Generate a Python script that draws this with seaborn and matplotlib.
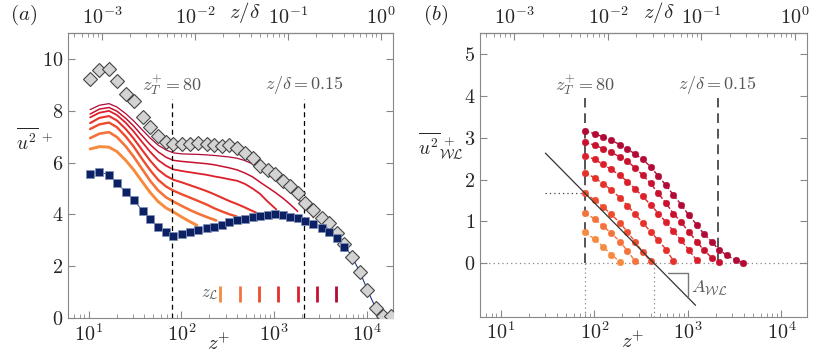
import matplotlib
matplotlib.use('Agg')
import matplotlib.pyplot as plt
import seaborn as sns

# ---- data ----
re_tau = 14000.0

zplus = [10.4, 13.1, 16.6, 20.2, 25.0, 30.5, 38.5, 46.1, 56.1, 68.4, 82.0, 101, 124, 152, 188,
         226, 272, 328, 400, 484, 586, 702, 849, 1026, 1250, 1476, 1799, 2138, 2626, 3235,
         3901, 4753, 5659, 6900, 8350, 10100, 12400, 14900, 17900]

diamonds = [9.24, 9.57, 9.62, 9.17, 8.66, 8.40, 7.78, 7.39, 7.04, 6.78, 6.72, 6.73, 6.73, 6.76,
            6.73, 6.68, 6.63, 6.68, 6.57, 6.37, 6.18, 5.89, 5.70, 5.56, 5.30, 5.09, 4.83, 4.44,
            4.18, 3.86, 3.66, 3.30, 2.85, 2.35, 1.79, 1.08, 0.38, 0.09, 0.09]

squares = [5.57, 5.64, 5.53, 5.21, 4.88, 4.55, 4.14, 3.83, 3.51, 3.32, 3.18, 3.25, 3.32, 3.41,
           3.47, 3.53, 3.61, 3.70, 3.77, 3.83, 3.92, 3.96, 3.99, 4.01, 3.99, 3.92, 3.88, 3.73,
           3.64, 3.47, 3.34, 3.08, 2.76]

# seven filtered profiles (panel a), top -> bottom, values on zplus grid + end point
curves_a = [
    [8.05, 8.22, 8.28, 8.15, 7.90, 7.62, 7.24, 6.95, 6.68, 6.49, 6.38, 6.34, 6.33, 6.32, 6.30,
     6.28, 6.25, 6.22, 6.17, 6.08, 5.95, 5.78, 5.58, 5.38, 5.15, 4.92, 4.62, 4.30, 3.90],
    [7.88, 8.07, 8.13, 7.99, 7.72, 7.42, 7.01, 6.70, 6.42, 6.21, 6.09, 6.05, 6.02, 5.99, 5.96,
     5.92, 5.86, 5.80, 5.72, 5.60, 5.45, 5.25, 5.05, 4.85, 4.62, 4.40],
    [7.75, 7.93, 8.00, 7.84, 7.55, 7.21, 6.76, 6.42, 6.10, 5.88, 5.74, 5.68, 5.63, 5.58, 5.53,
     5.47, 5.42, 5.36, 5.30, 5.18, 5.00, 4.80, 4.50],
    [7.53, 7.73, 7.80, 7.63, 7.31, 6.94, 6.45, 6.08, 5.73, 5.49, 5.34, 5.24, 5.13, 5.02, 4.90,
     4.78, 4.65, 4.52, 4.40, 4.27, 4.13],
    [7.30, 7.48, 7.55, 7.37, 7.02, 6.63, 6.10, 5.71, 5.34, 5.08, 4.92, 4.78, 4.65, 4.52, 4.38,
     4.24, 4.12, 4.01],
    [6.95, 7.12, 7.18, 6.99, 6.64, 6.24, 5.71, 5.30, 4.93, 4.66, 4.50, 4.33, 4.17, 4.03, 3.90],
    [6.53, 6.62, 6.60, 6.43, 6.10, 5.73, 5.23, 4.85, 4.50, 4.25, 4.10, 3.90, 3.72],
]
end_z = [2640, 1790, 1050, 640, 395, 237, 147]
end_u = [3.87, 4.12, 4.20, 4.07, 3.92, 3.77, 3.58]

z_L = [261, 428, 690, 1104, 1786, 2858, 4605]

# panel b: profiles with the wall part removed, top -> bottom
zplus_b = [80, 101, 124, 152, 188, 226, 272, 328, 400, 484, 586, 702, 849, 1026, 1250, 1476,
           1799, 2138, 2626, 3235, 3901]
curves_b = [
    [3.16, 3.09, 3.02, 2.94, 2.83, 2.73, 2.61, 2.48, 2.31, 2.08, 1.86, 1.63, 1.40, 1.15, 0.92,
     0.71, 0.52, 0.33, 0.19, 0.08, 0.02],
    [2.89, 2.82, 2.74, 2.65, 2.54, 2.44, 2.28, 2.11, 1.91, 1.67, 1.43, 1.19, 0.98, 0.75, 0.52,
     0.32, 0.14, 0.04],
    [2.57, 2.48, 2.36, 2.24, 2.10, 1.95, 1.78, 1.60, 1.40, 1.19, 0.98, 0.77, 0.55, 0.32, 0.07],
    [2.16, 2.04, 1.90, 1.75, 1.57, 1.38, 1.18, 0.97, 0.76, 0.55, 0.33, 0.06],
    [1.67, 1.51, 1.35, 1.17, 0.97, 0.75, 0.52, 0.28, 0.05],
    [1.20, 1.06, 0.89, 0.72, 0.52, 0.30, 0.06],
    [0.74, 0.58, 0.40, 0.21, 0.04],
]

logline_z = [30, 1210]
logline_u = [2.63, -1.00]
tri_z = [610, 1000, 1000]
tri_u = [-0.24, -0.24, -0.79]
z_cross = 438
u_at_zt = 1.67

top_ticks = [1e-3, 1e-2, 1e-1, 1e0]

colors = ['#b10a37', '#c8112f', '#dc1f2b', '#e6312a', '#ee4c2c', '#f4733a', '#f68b3f']
widths = [0.9, 1.1, 1.3, 1.5, 1.7, 1.9, 2.1]

# ---- style ----
sns.set_style('ticks')
plt.rcParams['font.family'] = 'serif'
plt.rcParams['font.serif'] = ['cmr10', 'DejaVu Serif']
plt.rcParams['mathtext.fontset'] = 'cm'
plt.rcParams['axes.formatter.use_mathtext'] = True
plt.rcParams['axes.unicode_minus'] = False

grey = '#888888'
txtgrey = '#555555'
tick_fs = 14.5

fig = plt.figure(figsize=(8.29, 3.57), dpi=100)
ax1 = fig.add_axes([0.082, 0.109, 0.392, 0.798])
ax2 = fig.add_axes([0.579, 0.113, 0.395, 0.794])


def dress(ax, ylim, yticks):
    ax.set_xscale('log')
    ax.set_xlim(6, 1.9e4)
    ax.set_ylim(*ylim)
    ax.set_yticks(yticks)
    ax.set_yticklabels([f'${v}$' for v in yticks])
    for s in ax.spines.values():
        s.set_color(grey)
        s.set_linewidth(0.8)
    ax.tick_params(which='both', direction='in', color=grey, labelsize=tick_fs,
                   top=False, right=True)
    ax.tick_params(which='major', length=5)
    ax.tick_params(which='minor', length=3)
    sec = ax.secondary_xaxis('top', functions=(lambda z: z / re_tau, lambda d: d * re_tau))
    sec.set_xticks(top_ticks)
    sec.tick_params(which='both', direction='in', color=grey, labelsize=tick_fs, pad=4)
    sec.tick_params(which='major', length=5)
    sec.tick_params(which='minor', length=3)
    ax.text(0.545, 1.074, r'$z/\delta$', transform=ax.transAxes, fontsize=15,
            ha='center', va='center')
    ax.text(0.465, -0.088, r'$z^{+}$', transform=ax.transAxes, fontsize=15,
            ha='center', va='center')


# ---- panel (a) ----
for i in range(7):
    vals = curves_a[i]
    zz = list(zplus[:len(vals)]) + [end_z[i]]
    uu = list(vals) + [end_u[i]]
    sns.lineplot(x=zz, y=uu, ax=ax1, color=colors[i], lw=widths[i], sort=False,
                 estimator=None, legend=False)

n_sq = len(squares)
sns.lineplot(x=zplus[n_sq - 1:], y=diamonds[n_sq - 1:], ax=ax1, color='#1a3a8a', lw=0.8,
             sort=False, estimator=None, legend=False)
sns.lineplot(x=zplus[:n_sq], y=squares, ax=ax1, color='#1a3a8a', lw=0.6,
             sort=False, estimator=None, legend=False)
ax1.plot(zplus, diamonds, ls='none', marker='D', ms=7.5, mfc='#d3d3d3', mec='#444444',
         mew=0.8, zorder=4)
ax1.plot(zplus[:n_sq], squares, ls='none', marker='s', ms=5.5, mfc='#0b2163', mec='#7f8fb8',
         mew=0.5, zorder=5)

ax1.vlines([80, 2100], 0, 8.45, colors='black', linestyles=(0, (4, 3)), lw=0.9)
ax1.text(80, 9.0, r'$z_T^{+}=80$', ha='center', va='center', fontsize=13, color=txtgrey)
ax1.text(2100, 9.0, r'$z/\delta=0.15$', ha='center', va='center', fontsize=13, color=txtgrey)

for i in range(7):
    ax1.vlines(z_L[i], 0.63, 1.24, colors=colors[6 - i], lw=2.0)
ax1.text(200, 0.93, r'$z_{\mathcal{L}}$', ha='center', va='center', fontsize=12, color=txtgrey)

dress(ax1, (0, 11), [0, 2, 4, 6, 8, 10])
ax1.text(-0.16, 0.625, r'$\overline{u^2}^{\,+}$', transform=ax1.transAxes, fontsize=14,
         ha='left', va='center')
ax1.text(-0.178, 1.063, r'$(a)$', transform=ax1.transAxes, fontsize=15, ha='left',
         va='center')

# ---- panel (b) ----
ax2.axhline(0, color=grey, ls=(0, (1, 2.5)), lw=0.9)
ax2.vlines([80, z_cross], -1.27, 0, colors=grey, linestyles=(0, (1, 2.5)), lw=0.9)
ax2.hlines(u_at_zt, 30, 80, colors='#444444', linestyles=(0, (1, 2.5)), lw=0.9)
ax2.vlines([80, 2100], 0, 3.95, colors='#555555', linestyles=(0, (5, 3)), lw=1.4)

for i in range(7):
    vals = curves_b[i]
    sns.lineplot(x=zplus_b[:len(vals)], y=vals, ax=ax2, color=colors[i], lw=1.0,
                 linestyle=(0, (3, 1.5)), marker='o', ms=4.8, mec=colors[i], mew=0.3,
                 sort=False, estimator=None, legend=False)

sns.lineplot(x=logline_z, y=logline_u, ax=ax2, color='#333333', lw=0.9, sort=False,
             estimator=None, legend=False)
ax2.plot(tri_z, tri_u, color='#777777', lw=1.0)
ax2.text(1080, -0.58, r'$A_{\mathcal{WL}}$', ha='left', va='center', fontsize=13,
         color=txtgrey)
ax2.text(80, 4.26, r'$z_T^{+}=80$', ha='center', va='center', fontsize=13, color=txtgrey)
ax2.text(2100, 4.26, r'$z/\delta=0.15$', ha='center', va='center', fontsize=13, color=txtgrey)

dress(ax2, (-1.27, 5.49), [0, 1, 2, 3, 4, 5])
ax2.text(-0.188, 0.6, r'$\overline{u^2}^{\,+}_{\mathcal{WL}}$', transform=ax2.transAxes,
         fontsize=14, ha='left', va='center')
ax2.text(-0.174, 1.063, r'$(b)$', transform=ax2.transAxes, fontsize=15, ha='left',
         va='center')

fig.savefig('out.png', dpi=100)
